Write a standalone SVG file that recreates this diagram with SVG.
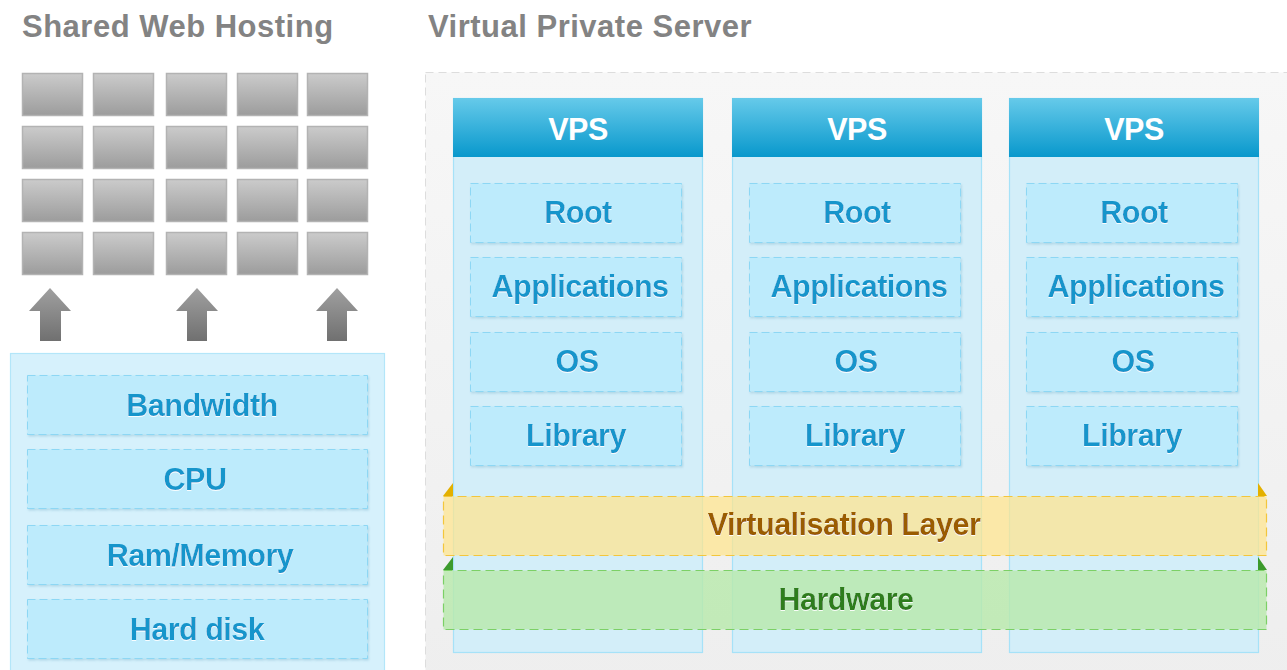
<svg xmlns="http://www.w3.org/2000/svg" width="1287" height="670" viewBox="0 0 1287 670">
<defs>
<linearGradient id="tileG" x1="0" y1="0" x2="0" y2="1"><stop offset="0" stop-color="#cbcbcb"/><stop offset="1" stop-color="#9c9c9c"/></linearGradient>
<linearGradient id="arrG" x1="0" y1="0" x2="0" y2="1"><stop offset="0" stop-color="#a0a0a0"/><stop offset="1" stop-color="#707070"/></linearGradient>
<linearGradient id="hdrG" x1="0" y1="0" x2="0" y2="1"><stop offset="0" stop-color="#66caea"/><stop offset="1" stop-color="#0898cc"/></linearGradient>
<linearGradient id="panelG" x1="0" y1="0" x2="0" y2="1"><stop offset="0" stop-color="#f7f7f7"/><stop offset="1" stop-color="#eeeeee"/></linearGradient>
<filter id="ts" x="-10%" y="-20%" width="120%" height="150%"><feDropShadow dx="0" dy="1" stdDeviation="0.6" flood-color="#ffffff" flood-opacity="0.9"/></filter>
<filter id="bs" x="-5%" y="-10%" width="110%" height="130%"><feDropShadow dx="1" dy="1.5" stdDeviation="1" flood-color="#6aa8c0" flood-opacity="0.35"/></filter>
</defs>
<style>
.title{font-family:"Liberation Sans",Arial,sans-serif;font-weight:bold;font-size:31px;letter-spacing:0.5px;fill:#838383}
.lbl{font-family:"Liberation Sans",Arial,sans-serif;font-weight:bold;font-size:30.5px;letter-spacing:-0.5px;text-anchor:middle}
.blue{fill:#1595cb}
.vps{fill:#ffffff}
.tile{fill:url(#tileG);stroke:#b3b3b3;stroke-width:1.5}
.res{fill:#bdebfc;stroke:#8dd7f4;stroke-width:1;stroke-dasharray:8 4}
.col{fill:#d3eef9;stroke:#a6e2f8;stroke-width:1.2}
.arr{fill:url(#arrG)}
</style>
<rect width="1287" height="670" fill="#ffffff"/>
<text class="title" x="22" y="37">Shared Web Hosting</text>
<text class="title" x="428" y="37">Virtual Private Server</text>

<g id="sites">
<rect class="tile" x="22.5" y="73.5" width="60" height="42"/><rect class="tile" x="93.5" y="73.5" width="60" height="42"/><rect class="tile" x="166.5" y="73.5" width="60" height="42"/><rect class="tile" x="237.5" y="73.5" width="60" height="42"/><rect class="tile" x="307.5" y="73.5" width="60" height="42"/>
<rect class="tile" x="22.5" y="126.5" width="60" height="42"/><rect class="tile" x="93.5" y="126.5" width="60" height="42"/><rect class="tile" x="166.5" y="126.5" width="60" height="42"/><rect class="tile" x="237.5" y="126.5" width="60" height="42"/><rect class="tile" x="307.5" y="126.5" width="60" height="42"/>
<rect class="tile" x="22.5" y="179.5" width="60" height="42"/><rect class="tile" x="93.5" y="179.5" width="60" height="42"/><rect class="tile" x="166.5" y="179.5" width="60" height="42"/><rect class="tile" x="237.5" y="179.5" width="60" height="42"/><rect class="tile" x="307.5" y="179.5" width="60" height="42"/>
<rect class="tile" x="22.5" y="232.5" width="60" height="42"/><rect class="tile" x="93.5" y="232.5" width="60" height="42"/><rect class="tile" x="166.5" y="232.5" width="60" height="42"/><rect class="tile" x="237.5" y="232.5" width="60" height="42"/><rect class="tile" x="307.5" y="232.5" width="60" height="42"/>
</g>

<g id="connectors">
<path class="arr" d="M50 288 L71 311 L61 311 L61 341 L40 341 L40 311 L29 311 Z"/>
<path class="arr" d="M197 288 L218 311 L207 311 L207 341 L187 341 L187 311 L176 311 Z"/>
<path class="arr" d="M337 288 L358 311 L347 311 L347 341 L327 341 L327 311 L316 311 Z"/>
</g>

<g id="shared-resources">
<rect x="10.5" y="353.5" width="374" height="330" fill="#d6f1fc" stroke="#b3e6f9" stroke-width="1.2"/>
<g id="bandwidth"><rect class="res" x="27.5" y="375.5" width="340" height="59" filter="url(#bs)"/><text class="lbl blue" x="202" y="416" filter="url(#ts)">Bandwidth</text></g>
<g id="cpu"><rect class="res" x="27.5" y="449.5" width="340" height="59" filter="url(#bs)"/><text class="lbl blue" x="195" y="490" filter="url(#ts)">CPU</text></g>
<g id="ram"><rect class="res" x="27.5" y="525.5" width="340" height="59" filter="url(#bs)"/><text class="lbl blue" x="200" y="566" filter="url(#ts)">Ram/Memory</text></g>
<g id="harddisk"><rect class="res" x="27.5" y="599.5" width="340" height="59" filter="url(#bs)"/><text class="lbl blue" x="197" y="640" filter="url(#ts)">Hard disk</text></g>
</g>

<g id="vps-panel">
<rect x="425.5" y="72.5" width="880" height="620" fill="url(#panelG)" stroke="#dddddd" stroke-width="1" stroke-dasharray="8 5"/>
</g>

<g id="vps1">
<rect class="col" x="453.5" y="98.5" width="249" height="554"/>
<rect x="453" y="98" width="250" height="59" fill="url(#hdrG)"/>
<text class="lbl vps" x="578" y="140">VPS</text>
<rect class="res" x="470.5" y="183.5" width="211" height="59" filter="url(#bs)"/><text class="lbl blue" x="578" y="223" filter="url(#ts)">Root</text>
<rect class="res" x="470.5" y="257.5" width="211" height="59" filter="url(#bs)"/><text class="lbl blue" x="580" y="297" filter="url(#ts)">Applications</text>
<rect class="res" x="470.5" y="332.5" width="211" height="59" filter="url(#bs)"/><text class="lbl blue" x="577" y="372" filter="url(#ts)">OS</text>
<rect class="res" x="470.5" y="406.5" width="211" height="59" filter="url(#bs)"/><text class="lbl blue" x="576" y="446" filter="url(#ts)">Library</text>
</g>
<g id="vps2">
<rect class="col" x="732.5" y="98.5" width="249" height="554"/>
<rect x="732" y="98" width="250" height="59" fill="url(#hdrG)"/>
<text class="lbl vps" x="857" y="140">VPS</text>
<rect class="res" x="749.5" y="183.5" width="211" height="59" filter="url(#bs)"/><text class="lbl blue" x="857" y="223" filter="url(#ts)">Root</text>
<rect class="res" x="749.5" y="257.5" width="211" height="59" filter="url(#bs)"/><text class="lbl blue" x="859" y="297" filter="url(#ts)">Applications</text>
<rect class="res" x="749.5" y="332.5" width="211" height="59" filter="url(#bs)"/><text class="lbl blue" x="856" y="372" filter="url(#ts)">OS</text>
<rect class="res" x="749.5" y="406.5" width="211" height="59" filter="url(#bs)"/><text class="lbl blue" x="855" y="446" filter="url(#ts)">Library</text>
</g>
<g id="vps3">
<rect class="col" x="1009.5" y="98.5" width="249" height="554"/>
<rect x="1009" y="98" width="250" height="59" fill="url(#hdrG)"/>
<text class="lbl vps" x="1134" y="140">VPS</text>
<rect class="res" x="1026.5" y="183.5" width="211" height="59" filter="url(#bs)"/><text class="lbl blue" x="1134" y="223" filter="url(#ts)">Root</text>
<rect class="res" x="1026.5" y="257.5" width="211" height="59" filter="url(#bs)"/><text class="lbl blue" x="1136" y="297" filter="url(#ts)">Applications</text>
<rect class="res" x="1026.5" y="332.5" width="211" height="59" filter="url(#bs)"/><text class="lbl blue" x="1133" y="372" filter="url(#ts)">OS</text>
<rect class="res" x="1026.5" y="406.5" width="211" height="59" filter="url(#bs)"/><text class="lbl blue" x="1132" y="446" filter="url(#ts)">Library</text>
</g>

<g id="virtualisation-layer">
<path d="M443 496 L453 483 L453 496 Z" fill="#e3b000"/>
<path d="M1258 483 L1267 496 L1258 496 Z" fill="#e3b000"/>
<rect x="443.5" y="496.5" width="823" height="59" fill="#ffe48c" fill-opacity="0.72" stroke="#f3c63c" stroke-width="1.2" stroke-dasharray="9 5"/>
<text class="lbl" x="844" y="535" fill="#9a5b00" filter="url(#ts)">Virtualisation Layer</text>
</g>
<g id="hardware">
<path d="M443 570 L453 557 L453 570 Z" fill="#3c9a2c"/>
<path d="M1258 557 L1267 570 L1258 570 Z" fill="#3c9a2c"/>
<rect x="443.5" y="570.5" width="823" height="59" fill="#b8e9ac" fill-opacity="0.82" stroke="#7cd066" stroke-width="1.2" stroke-dasharray="9 5"/>
<text class="lbl" x="846" y="610" fill="#2f7d1e" filter="url(#ts)">Hardware</text>
</g>
</svg>
